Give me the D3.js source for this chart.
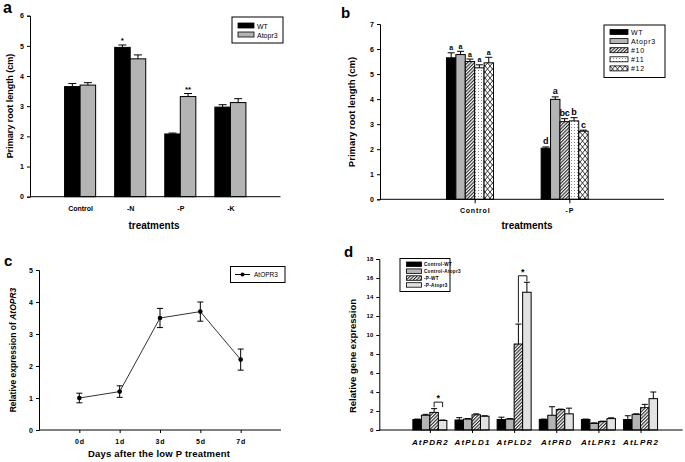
<!DOCTYPE html>
<html><head><meta charset="utf-8">
<script src="https://cdn.jsdelivr.net/npm/d3@7/dist/d3.min.js"></script>
<style>
html,body{margin:0;padding:0;background:#fff;}
svg{display:block;font-family:"Liberation Sans",Arial,sans-serif;}
</style></head>
<body><svg id="chart" width="685" height="462"></svg>
<script>
// ---------- Panel a ----------
const aCategories = ["Control", "-N", "-P", "-K"];
const aSeries = ["WT", "Atopr3"];
const aWT = [3.65, 4.95, 2.08, 2.97];
const aWTErr = [0.1, 0.08, 0.03, 0.08];
const aAtopr3 = [3.7, 4.57, 3.32, 3.12];
const aAtopr3Err = [0.08, 0.13, 0.1, 0.13];
const aWTMarks = ["", "*", "", ""];
const aAtopr3Marks = ["", "", "**", ""];
const aYTicks = [0, 1, 2, 3, 4, 5, 6];

// ---------- Panel b ----------
const bCategories = ["Control", "-P"];
const bSeries = ["WT", "Atopr3", "#10", "#11", "#12"];
const bWT = [5.65, 2.04];
const bWTErr = [0.2, 0.05];
const bAtopr3 = [5.78, 3.99];
const bAtopr3Err = [0.13, 0.1];
const b10 = [5.5, 3.1];
const b10Err = [0.1, 0.12];
const b11 = [5.25, 3.13];
const b11Err = [0.12, 0.13];
const b12 = [5.45, 2.72];
const b12Err = [0.22, 0.04];
const bLetters = [["a", "a", "a", "a", "a"], ["d", "a", "bc", "b", "c"]];
const bYTicks = [0, 1, 2, 3, 4, 5, 6, 7];

// ---------- Panel c ----------
const cDays = ["0d", "1d", "3d", "5d", "7d"];
const cValues = [1.0, 1.2, 3.5, 3.7, 2.2];
const cErr = [0.15, 0.18, 0.3, 0.3, 0.33];
const cYTicks = [0, 1, 2, 3, 4, 5];

// ---------- Panel d ----------
const dGenes = ["AtPDR2", "AtPLD1", "AtPLD2", "AtPRD", "AtLPR1", "AtLPR2"];
const dSeries = ["Control-WT", "Control-Atopr3", "-P-WT", "-P-Atopr3"];
const dControlWT = [1.1, 1.05, 1.1, 1.1, 1.1, 1.1];
const dControlWTErr = [0.05, 0.25, 0.25, 0.05, 0.05, 0.4];
const dControlAtopr3 = [1.55, 1.15, 1.15, 1.55, 0.7, 1.65];
const dControlAtopr3Err = [0.1, 0.05, 0.05, 0.9, 0.05, 0.05];
const dPWT = [1.85, 1.6, 9.05, 2.15, 0.88, 2.35];
const dPWTErr = [0.4, 0.1, 2.1, 0.05, 0.05, 0.35];
const dPAtopr3 = [1.0, 1.45, 14.5, 1.7, 1.2, 3.3];
const dPAtopr3Err = [0.05, 0.05, 1.05, 0.6, 0.08, 0.7];
const dSignificant = [true, false, true, false, false, false];
const dYTicks = [0, 2, 4, 6, 8, 10, 12, 14, 16, 18];

const svg = d3.select("#chart");
const defs = svg.append("defs");

// patterns
(function () {
  let p = defs.append("pattern").attr("id", "hatch").attr("patternUnits", "userSpaceOnUse")
    .attr("width", 2.4).attr("height", 2.4).attr("patternTransform", "rotate(45)");
  p.append("rect").attr("width", 2.4).attr("height", 2.4).attr("fill", "#fff");
  p.append("line").attr("x1", 0.6).attr("y1", 0).attr("x2", 0.6).attr("y2", 2.4)
    .attr("stroke", "#222").attr("stroke-width", 1.1);

  p = defs.append("pattern").attr("id", "dots").attr("patternUnits", "userSpaceOnUse")
    .attr("width", 3).attr("height", 3);
  p.append("rect").attr("width", 3).attr("height", 3).attr("fill", "#fff");
  p.append("rect").attr("x", 1).attr("y", 1).attr("width", 1).attr("height", 1).attr("fill", "#888");

  p = defs.append("pattern").attr("id", "cross").attr("patternUnits", "userSpaceOnUse")
    .attr("width", 5).attr("height", 6);
  p.append("rect").attr("width", 5).attr("height", 6).attr("fill", "#fff");
  p.append("path").attr("d", "M0,0 L5,6 M5,0 L0,6").attr("stroke", "#222").attr("stroke-width", 0.9);
})();

function drawYAxis(g, y, x0, ticks, fs) {
  const ax = d3.axisLeft(y).tickValues(ticks).tickSize(3).tickPadding(3).tickFormat(d3.format("d"));
  const a = g.append("g").attr("transform", `translate(${x0},0)`).call(ax);
  a.select(".domain").attr("stroke", "#000").attr("stroke-width", 1);
  a.selectAll(".tick line").attr("stroke", "#000");
  a.selectAll("text").attr("font-size", fs).attr("font-weight", "bold").attr("fill", "#000")
    .attr("font-family", "Liberation Sans, Arial, sans-serif");
  return a;
}
function drawXAxis(g, x, y0, tickVals, labels, fs, opts = {}) {
  const ax = d3.axisBottom(x).tickValues(tickVals).tickSize(opts.tickSize ?? 3).tickPadding(opts.pad ?? 5)
    .tickFormat((d, i) => labels[i]);
  const a = g.append("g").attr("transform", `translate(0,${y0})`).call(ax);
  a.select(".domain").attr("d", `M${x.range()[0]},0H${x.range()[1]}`).attr("stroke", "#000").attr("stroke-width", 1);
  a.selectAll(".tick line").attr("stroke", "#000");
  a.selectAll("text").attr("font-size", fs).attr("font-weight", "bold").attr("fill", "#000")
    .attr("font-family", "Liberation Sans, Arial, sans-serif")
    .attr("letter-spacing", opts.ls ?? 0).attr("font-style", opts.italic ? "italic" : "normal");
  return a;
}
function yTitle(g, text, x, y, fs) {
  return g.append("text").attr("transform", `translate(${x},${y}) rotate(-90)`)
    .attr("text-anchor", "middle").attr("font-size", fs).attr("font-weight", "bold").text(text);
}
function panelLetter(text, x, y, fs) {
  svg.append("text").attr("x", x).attr("y", y).attr("font-size", fs).attr("font-weight", "bold").text(text);
}
function errUp(g, cx, yTop, yErr, hw) {
  g.append("line").attr("x1", cx).attr("x2", cx).attr("y1", yTop).attr("y2", yErr).attr("stroke", "#000").attr("stroke-width", 1);
  g.append("line").attr("x1", cx - hw).attr("x2", cx + hw).attr("y1", yErr).attr("y2", yErr).attr("stroke", "#000").attr("stroke-width", 1);
}

// ================= Panel a =================
{
  const g = svg.append("g");
  const y = d3.scaleLinear().domain([0, 6]).range([196.7, 15.7]);
  const x = d3.scaleLinear().domain([0, 5]).range([30, 280.5]);
  const bw = x(0.31) - x(0);
  const series = [
    { vals: aWT, err: aWTErr, fill: "#000", marks: aWTMarks },
    { vals: aAtopr3, err: aAtopr3Err, fill: "#b4b4b4", marks: aAtopr3Marks }
  ];
  series.forEach((s, si) => {
    aCategories.forEach((c, i) => {
      const x0 = x(i + 1) + (si - 1) * bw;
      g.append("rect").attr("x", x0).attr("y", y(s.vals[i])).attr("width", bw)
        .attr("height", y(0) - y(s.vals[i])).attr("fill", s.fill).attr("stroke", "#000").attr("stroke-width", 1);
      errUp(g, x0 + bw / 2, y(s.vals[i]), y(s.vals[i] + s.err[i]), 4);
      if (s.marks[i]) g.append("text").attr("x", x0 + bw / 2).attr("y", y(s.vals[i] + s.err[i]) - 2)
        .attr("text-anchor", "middle").attr("font-size", 8).attr("font-weight", "bold").text(s.marks[i]);
    });
  });
  drawYAxis(g, y, 30, aYTicks, 7);
  drawXAxis(g, x, 196.7, [1, 2, 3, 4], aCategories, 7, { tickSize: 0, pad: 9 });
  yTitle(g, "Primary root length (cm)", 13, 106, 9);
  g.append("text").attr("x", 154).attr("y", 229).attr("text-anchor", "middle").attr("font-size", 10)
    .attr("font-weight", "bold").text("treatments");
  // legend
  g.append("rect").attr("x", 232).attr("y", 17).attr("width", 51).attr("height", 26).attr("fill", "#fff").attr("stroke", "#000");
  aSeries.forEach((s, i) => {
    g.append("rect").attr("x", 238).attr("y", 23 + i * 9).attr("width", 16).attr("height", 5)
      .attr("fill", series[i].fill).attr("stroke", "#000").attr("stroke-width", 0.8);
    g.append("text").attr("x", 257).attr("y", 28.5 + i * 9).attr("font-size", 7).text(s);
  });
  panelLetter("a", 3, 13, 16);
}

// ================= Panel b =================
{
  const g = svg.append("g");
  const y = d3.scaleLinear().domain([0, 7]).range([199.3, 24]);
  const x = d3.scaleLinear().domain([0, 3]).range([380, 664]);
  const bw = 9.4;
  const series = [
    { vals: bWT, err: bWTErr, fill: "#000" },
    { vals: bAtopr3, err: bAtopr3Err, fill: "#b4b4b4" },
    { vals: b10, err: b10Err, fill: "url(#hatch)" },
    { vals: b11, err: b11Err, fill: "url(#dots)" },
    { vals: b12, err: b12Err, fill: "url(#cross)" }
  ];
  series.forEach((s, si) => {
    bCategories.forEach((c, i) => {
      const x0 = x(i + 1) - 3 * bw + si * bw;
      g.append("rect").attr("x", x0).attr("y", y(s.vals[i])).attr("width", bw)
        .attr("height", y(0) - y(s.vals[i])).attr("fill", s.fill).attr("stroke", "#000").attr("stroke-width", 1);
      errUp(g, x0 + bw / 2, y(s.vals[i]), y(s.vals[i] + s.err[i]), 3.5);
      g.append("text").attr("x", x0 + bw / 2).attr("y", y(s.vals[i] + s.err[i]) - 2.5)
        .attr("text-anchor", "middle").attr("font-size", i === 0 ? 7 : 9).attr("font-weight", "bold")
        .text(bLetters[i][si]);
    });
  });
  drawYAxis(g, y, 380, bYTicks, 7);
  drawXAxis(g, x, 199.3, [1, 2], bCategories, 7, { tickSize: 4, pad: 5, ls: 0.8 });
  yTitle(g, "Primary root length (cm)", 355, 112, 9.5);
  g.append("text").attr("x", 527).attr("y", 229).attr("text-anchor", "middle").attr("font-size", 10)
    .attr("font-weight", "bold").text("treatments");
  g.append("rect").attr("x", 604).attr("y", 25).attr("width", 61).attr("height", 52.5).attr("fill", "#fff").attr("stroke", "#000");
  bSeries.forEach((s, i) => {
    g.append("rect").attr("x", 610).attr("y", 29.5 + i * 9.1).attr("width", 18).attr("height", 5)
      .attr("fill", series[i].fill).attr("stroke", "#000").attr("stroke-width", 0.8);
    g.append("text").attr("x", 631).attr("y", 35 + i * 9.1).attr("font-size", 7).attr("letter-spacing", 0.7).text(s);
  });
  panelLetter("b", 341, 18, 15);
}

// ================= Panel c =================
{
  const g = svg.append("g");
  const y = d3.scaleLinear().domain([0, 5]).range([430, 270]);
  const x = d3.scaleLinear().domain([0, 6]).range([39, 281]);
  const line = d3.line().x((d, i) => x(i + 1)).y(d => y(d));
  g.append("path").datum(cValues).attr("d", line).attr("fill", "none").attr("stroke", "#333").attr("stroke-width", 1);
  cValues.forEach((v, i) => {
    const cx = x(i + 1);
    g.append("line").attr("x1", cx).attr("x2", cx).attr("y1", y(v - cErr[i])).attr("y2", y(v + cErr[i])).attr("stroke", "#000");
    [v - cErr[i], v + cErr[i]].forEach(e => g.append("line").attr("x1", cx - 3).attr("x2", cx + 3)
      .attr("y1", y(e)).attr("y2", y(e)).attr("stroke", "#000"));
    g.append("circle").attr("cx", cx).attr("cy", y(v)).attr("r", 2.3).attr("fill", "#000");
  });
  drawYAxis(g, y, 39, cYTicks, 7);
  drawXAxis(g, x, 430, [1, 2, 3, 4, 5], cDays, 7, { tickSize: 3, pad: 6, ls: 0.8 });
  const t = g.append("text").attr("transform", "translate(16,350) rotate(-90)").attr("text-anchor", "middle")
    .attr("font-size", 8.5).attr("font-weight", "bold");
  t.append("tspan").text("Relative expression of ");
  t.append("tspan").attr("font-style", "italic").text("AtOPR3");
  g.append("text").attr("x", 159).attr("y", 457).attr("text-anchor", "middle").attr("font-size", 9.5)
    .attr("font-weight", "bold").attr("letter-spacing", 0.2).text("Days after the low P treatment");
  g.append("rect").attr("x", 230.5).attr("y", 266.5).attr("width", 54.5).attr("height", 16).attr("fill", "#fff").attr("stroke", "#000");
  g.append("line").attr("x1", 235).attr("x2", 250).attr("y1", 274.5).attr("y2", 274.5).attr("stroke", "#000");
  g.append("circle").attr("cx", 242.5).attr("cy", 274.5).attr("r", 2).attr("fill", "#000");
  g.append("text").attr("x", 254).attr("y", 277).attr("font-size", 6.5).text("AtOPR3");
  panelLetter("c", 4, 266, 15);
}

// ================= Panel d =================
{
  const g = svg.append("g");
  const y = d3.scaleLinear().domain([0, 18]).range([430, 259]);
  const x = d3.scaleLinear().domain([0, 7.2]).range([379.3, 682.7]);
  const bw = 8.5;
  const series = [
    { vals: dControlWT, err: dControlWTErr, fill: "#000" },
    { vals: dControlAtopr3, err: dControlAtopr3Err, fill: "#b4b4b4" },
    { vals: dPWT, err: dPWTErr, fill: "url(#hatch)" },
    { vals: dPAtopr3, err: dPAtopr3Err, fill: "#e2e2e2" }
  ];
  const cen = i => x(i + 1.2);
  series.forEach((s, si) => {
    dGenes.forEach((gn, i) => {
      const x0 = cen(i) - 2 * bw + si * bw;
      g.append("rect").attr("x", x0).attr("y", y(s.vals[i])).attr("width", bw)
        .attr("height", y(0) - y(s.vals[i])).attr("fill", s.fill).attr("stroke", "#000").attr("stroke-width", 1);
      errUp(g, x0 + bw / 2, y(s.vals[i]), y(s.vals[i] + s.err[i]), 3);
    });
  });
  dGenes.forEach((gn, i) => {
    if (!dSignificant[i]) return;
    const xa = cen(i) + bw / 2, xb = cen(i) + 1.5 * bw;
    const yHatch = y(dPWT[i] + dPWTErr[i]) - 1.5;
    const yLight = Math.min(y(dPAtopr3[i] + dPAtopr3Err[i]) - 1, yHatch);
    const top = Math.max(dPWT[i] + dPWTErr[i], dPAtopr3[i] + dPAtopr3Err[i]);
    const yb = y(top) - 6.5;
    g.append("path").attr("d", `M${xa},${yHatch}V${yb}H${xb}V${yLight}`)
      .attr("fill", "none").attr("stroke", "#000").attr("stroke-width", 0.9);
    g.append("text").attr("x", (xa + xb) / 2).attr("y", yb - 1).attr("text-anchor", "middle")
      .attr("font-size", 9).attr("font-weight", "bold").text("*");
  });
  drawYAxis(g, y, 379.3, dYTicks, 6);
  drawXAxis(g, x, 430, dGenes.map((d, i) => i + 1.2), dGenes, 8, { tickSize: 3, pad: 6, ls: 1.2, italic: true });
  yTitle(g, "Relative gene expression", 356, 356, 9.5);
  g.append("rect").attr("x", 400).attr("y", 258.5).attr("width", 50).attr("height", 33).attr("fill", "#fff").attr("stroke", "#000");
  dSeries.forEach((s, i) => {
    g.append("rect").attr("x", 406.5).attr("y", 262 + i * 6.9).attr("width", 15).attr("height", 4.5)
      .attr("fill", series[i].fill).attr("stroke", "#000").attr("stroke-width", 0.8);
    g.append("text").attr("x", 424).attr("y", 266 + i * 6.9).attr("font-size", 4.6).attr("font-weight", "bold")
      .attr("letter-spacing", 0.3).text(s);
  });
  panelLetter("d", 344, 257, 15);
}
</script></body></html>
